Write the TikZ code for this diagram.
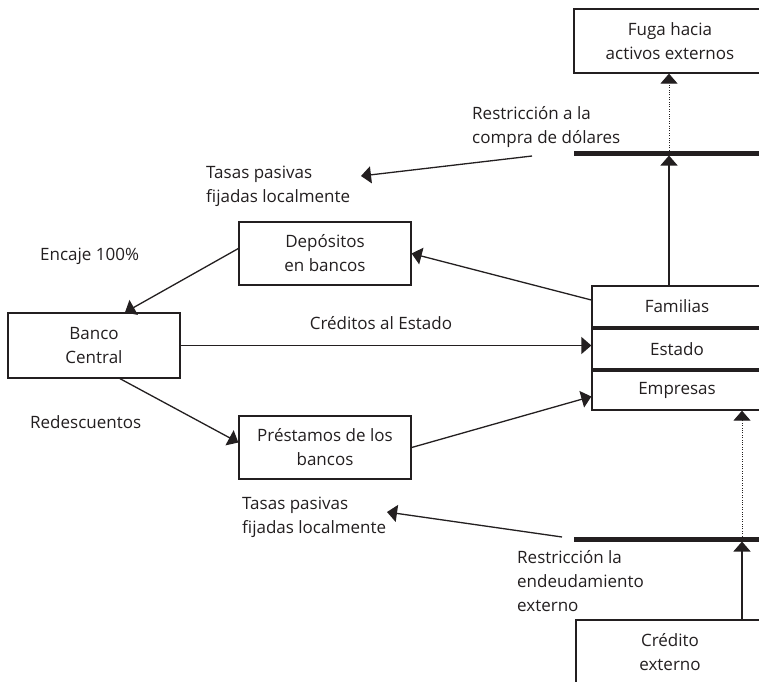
\documentclass[tikz,border=0pt]{standalone}
\usepackage{fontspec}
\setmainfont{Open Sans}
\usetikzlibrary{arrows.meta}
\definecolor{ink}{HTML}{231F20}
\begin{document}
\begin{tikzpicture}[x=1pt,y=-1pt,
  txt/.style={text=ink, font=\fontsize{17}{24}\selectfont},
  box/.style={txt, draw=ink, line width=1.3pt, inner sep=0pt, align=center},
  lbl/.style={txt, inner sep=0pt, align=left, anchor=west},
  arr/.style={draw=ink, line width=1.3pt, -{Triangle[length=10pt,width=17pt]}},
  dotarr/.style={arr, line width=0.9pt, dash pattern=on 1pt off 1.4pt},
  bar/.style={draw=ink, line width=5pt}
]
\clip (0,0) rectangle (759,681);
\fill[white] (0,0) rectangle (759,681);

% boxes
\node[box, minimum width=192pt, minimum height=64pt] (fuga) at (670,41) {Fuga hacia\\activos externos};
\node[box, minimum width=172pt, minimum height=63pt] (dep) at (325,253.5) {Depósitos\\en bancos};
\node[box, minimum width=172pt, minimum height=65pt] (banco) at (94,345.5) {Banco\\Central};
\node[box, minimum width=172pt, minimum height=63pt] (pres) at (325,447.5) {Préstamos de los\\bancos};
\node[box, minimum width=170pt, minimum height=41pt] (fam) at (677,306.5) {Familias};
\node[box, minimum width=170pt, minimum height=40pt] (est) at (677,349) {Estado};
\node[box, minimum width=170pt, minimum height=39pt] (emp) at (677,390.5) {Empresas};
\node[box, minimum width=188pt, minimum height=64pt] (cred) at (670,652) {Crédito\\externo};

% labels
\node[lbl] (rest1) at (472,127) {Restricción a la\\compra de dólares};
\node[lbl] (tas1) at (206,186) {Tasas pasivas\\fijadas localmente};
\node[lbl] (enc) at (40,256) {Encaje 100\%};
\node[txt, inner sep=0pt] (cred_lbl) at (381,323) {Créditos al Estado};
\node[lbl] (red) at (30,422) {Redescuentos};
\node[lbl] (tas2) at (242,517) {Tasas pasivas\\fijadas localmente};
\node[lbl] (rest2) at (517,581) {Restricción la\\endeudamiento\\externo};

% bars
\coordinate (ubarL) at (574,153);
\coordinate (ubarR) at (770,153);
\coordinate (uA) at (669,153);
\coordinate (lbarL) at (574,539);
\coordinate (lbarR) at (770,539);
\coordinate (lA) at (742,539);
\draw[bar] (ubarL) -- (ubarR);
\draw[bar] (lbarL) -- (lbarR);

% connectors
\draw[arr, shorten >=2.5pt] (fam.north -| uA) -- (uA);
\draw[dotarr, shorten <=2.5pt] (uA) -- (fuga.south -| uA);
\coordinate (ustart) at (532,156);
\coordinate (utip) at (361,176);
\draw[arr] (ustart) -- (utip);
\draw[arr] ([yshift=6.5pt]fam.west) -- (dep.east);
\draw[arr] ([yshift=5pt]dep.west) -- ([xshift=31pt]banco.north);
\draw[arr] (banco.east) -- (banco.east -| est.west);
\draw[arr] ([xshift=26pt]banco.south) -- ([yshift=5pt]pres.west);
\draw[arr] (pres.east) -- ([yshift=-6pt]emp.west);
\draw[arr, shorten >=2.5pt] (cred.north -| lA) -- (lA);
\draw[dotarr, shorten <=2.5pt] (lA) -- (emp.south -| lA);
\coordinate (lstart) at (562,537);
\coordinate (ltip) at (387,512);
\draw[arr] (lstart) -- (ltip);
\end{tikzpicture}
\end{document}
